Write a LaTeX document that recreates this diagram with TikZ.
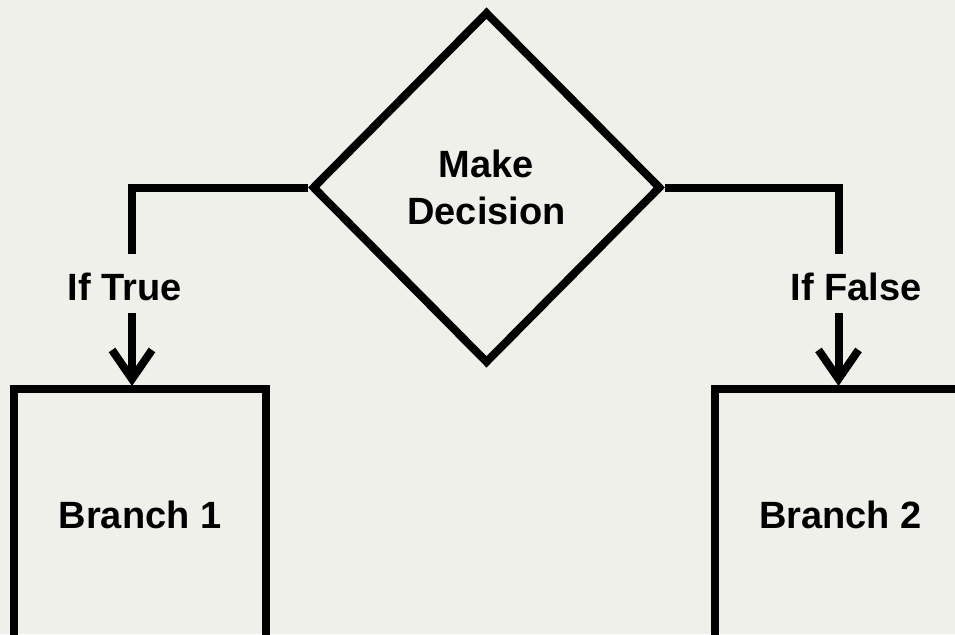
\documentclass[tikz,border=0pt]{standalone}
\usepackage{fontspec}
\setmainfont{Liberation Sans}
\usetikzlibrary{shapes.geometric,arrows.meta}
\definecolor{bg}{RGB}{240,240,235}
\tikzset{
  lw/.style={line width=8pt, line join=miter},
  txt/.style={font=\fontsize{38}{47}\selectfont\bfseries, text=black},
  decbox/.style={lw, draw=black, diamond, minimum width=349pt, minimum height=352pt, inner sep=0pt, align=center, txt},
  branchbox/.style={lw, draw=black, rectangle, minimum width=252pt, minimum height=252pt, inner sep=0pt, txt},
  conn/.style={lw, draw=black, -{Straight Barb[length=29pt,width=40pt]}},
  lbl/.style={txt, fill=bg, inner sep=0pt, minimum height=59pt, text height=34pt, text depth=0pt}
}
\begin{document}
\begin{tikzpicture}[x=1pt,y=-1pt]
\useasboundingbox (0,0) rectangle (955,634);
\clip (0,0) rectangle (955,634);
\fill[bg] (0,0) rectangle (955,634);
\node[decbox] (dec) at (486.5,187.5) {Make\\Decision};
\node[branchbox] (b1) at (140,515) {Branch 1};
\node[branchbox] (b2) at (840.5,515) {Branch 2};
\draw[conn] (dec.west) -| ([xshift=-8pt,yshift=-1pt]b1.north);
\draw[conn] (dec.east) -| ([xshift=-2pt,yshift=-1pt]b2.north);
\node[lbl] (lt) at (125,283.5) {If True};
\node[lbl] (lf) at (856,283.5) {If False};
\end{tikzpicture}
\end{document}
